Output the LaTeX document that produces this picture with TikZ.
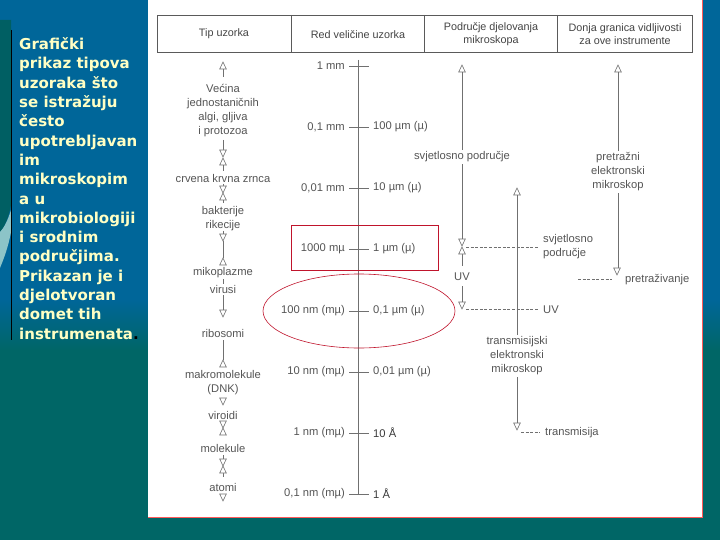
\documentclass[tikz,border=0pt]{standalone}
\usepackage{fontspec}
\setmainfont{Liberation Sans}
\newfontfamily\introfont{DejaVu Sans}
\usetikzlibrary{arrows.meta}
\definecolor{bgblue}{HTML}{006699}
\definecolor{bgteal}{HTML}{006666}
\definecolor{decoteal}{HTML}{005F63}
\definecolor{decolight}{HTML}{8CC4C8}
\definecolor{paleyel}{HTML}{FFFFC4}
\definecolor{dtext}{HTML}{555555}
\definecolor{dline}{HTML}{707070}
\definecolor{markred}{HTML}{C0142C}
\tikzset{
  lbl/.style={text=dtext, font=\fontsize{11.2}{14}\selectfont, inner sep=0pt, align=center},
  lblw/.style={lbl, fill=white, inner sep=2pt},
  hdrtxt/.style={text=dtext!80!black, font=\fontsize{10.8}{12.5}\selectfont, inner sep=0pt, align=center},
  ln/.style={draw=dline, line width=0.6pt},
  dsh/.style={draw=dline, line width=0.6pt, dash pattern=on 3pt off 1.6pt},
  hdr/.style={draw=dline!80!black, line width=0.8pt},
  tridn/.pic={\draw[dline, fill=white, line width=0.6pt] (0,0) -- (-3.3,-7) -- (3.3,-7) -- cycle;},
  triup/.pic={\draw[dline, fill=white, line width=0.6pt] (0,0) -- (-3.3,7) -- (3.3,7) -- cycle;},
}
\begin{document}
\begin{tikzpicture}[x=1pt,y=-1pt]
% background
\fill[bgblue] (0,0) rectangle (720,300);
\shade[top color=bgblue,bottom color=bgteal] (0,299.5) rectangle (720,350.5);
\fill[bgteal] (0,350) rectangle (720,540);
\useasboundingbox (0,0) rectangle (720,540);
% left decoration
\fill[decoteal] (0,20) -- (11,20) -- (11,205) .. controls (8,220) and (4,228) .. (0,232) -- cycle;
\fill[decolight] (0,232) .. controls (4,228) and (8,220) .. (11,210) -- (11,232) .. controls (8,248) and (4,258) .. (0,268) -- cycle;
\draw[black, line width=0.8pt] (11.5,30) -- (11.5,340);
% intro text
\node[anchor=north west, inner sep=0pt, align=left, text=paleyel,
      font=\introfont\bfseries\fontsize{15}{19.3}\selectfont] (intro) at (19,37.5)
 {Grafički\\prikaz tipova\\uzoraka što\\se istražuju\\često\\upotrebljavan\\im\\mikroskopim\\a u\\mikrobiologiji\\i srodnim\\područjima.\\Prikazan je i\\djelotvoran\\domet tih\\instrumenata\textcolor{black}{.}};
% white panel
\fill[white] (148,0) rectangle (702,517);
\draw[red!65!white, line width=0.6pt] (702,0) -- (702,517) -- (148,517);
% header
\draw[hdr] (157,15) rectangle (692,52);
\draw[hdr] (291,15) -- (291,52);
\draw[hdr] (424,15) -- (424,52);
\draw[hdr] (557,15) -- (557,52);
\node[hdrtxt] (h1) at (224,34) {Tip uzorka};
\node[hdrtxt] (h2) at (358,35) {Red veličine uzorka};
\node[hdrtxt] (h3) at (491,34) {Područje djelovanja\\mikroskopa};
\node[hdrtxt] (h4) at (625,34) {Donja granica vidljivosti\\za ove instrumente};
% ---- left column: sample types
\node[lbl] (vec) at (223,111) {Većina\\jednostaničnih\\algi, gljiva\\i protozoa};
\node[lbl] (crv) at (223,178) {crvena krvna zrnca};
\node[lbl] (bak) at (223,219) {bakterije\\rikecije};
\node[lbl] (mik) at (223,273) {mikoplazme};
\node[lbl] (vir) at (223,289) {virusi};
\node[lbl] (rib) at (223,333) {ribosomi};
\node[lbl] (mak) at (223,383) {makromolekule\\(DNK)};
\node[lbl] (vrd) at (223,415) {viroidi};
\node[lbl] (mol) at (223,448) {molekule};
\node[lbl] (atm) at (223,487) {atomi};
\draw[ln] (223,69) -- (223,77);
\draw[ln] (223,140) -- (223,150);
\draw[ln] (223,165) -- (223,171);
\draw[ln] (223,184) -- (223,186);
\draw[ln] (223,200) -- (223,203);
\draw[ln] (223,231) -- (223,234);
\draw[ln] (223,241) -- (223,258);
\draw[ln] (223,279) -- (223,284);
\draw[ln] (223,295) -- (223,310);
\draw[ln] (223,340) -- (223,360);
\draw[ln] (223,455) -- (223,459);
\draw[ln] (223,473) -- (223,477);
\pic at (223,62) {triup};
\pic at (223,157) {tridn};
\pic at (223,158) {triup};
\pic at (223,193) {tridn};
\pic at (223,193) {triup};
\pic at (223,241) {tridn};
\pic at (223,258) {triup};
\pic at (223,317) {tridn};
\pic at (223,360) {triup};
\pic at (223,405) {tridn};
\pic at (223,428) {tridn};
\pic at (223,428) {triup};
\pic at (223,466) {tridn};
\pic at (223,466) {triup};
\pic at (223,501) {tridn};
% ---- scale
\coordinate (stop) at (358,60);
\coordinate (sbot) at (358,494);
\draw[ln] (stop) -- (sbot);
\foreach \yy/\la/\lb in {66/{1 mm}/{},127/{0,1 mm}/{100 µm (µ)},188/{0,01 mm}/{10 µm (µ)},
  249/{1000 mµ}/{1 µm (µ)},311/{100 nm (mµ)}/{0,1 µm (µ)},372/{10 nm (mµ)}/{0,01 µm (µ)},
  433/{1 nm (mµ)}/{\textcolor{dtext!70!black}{10 Å}},494/{0,1 nm (mµ)}/{\textcolor{dtext!70!black}{1 Å}}}{
  \draw[ln] (349,\yy) -- (369,\yy);
  \node[lbl, anchor=east] at (345,\yy) {\la};
  \node[lbl, anchor=west] at (373,\yy) {\lb};
}
\draw[markred, line width=0.9pt] (291,225) rectangle (438,270);
\draw[markred, line width=0.6pt] (359,311) ellipse [x radius=96, y radius=37];
% ---- light microscope range
\draw[ln] (462,72) -- (462,239);
\node[lblw] (svp) at (462,157) {svjetlosno područje};
\draw[ln] (462,254) -- (462,266);
\pic at (462,65) {triup};
\pic at (462,246) {tridn};
\pic at (462,247) {triup};
\draw[dsh] (466,247) -- (538,247);
\node[lbl, anchor=west, align=left] (svl) at (543,246.5) {svjetlosno\\područje};
\node[lbl] (uv1) at (462,277) {UV};
\draw[ln] (462,286) -- (462,302);
\pic at (462,309) {tridn};
\draw[dsh] (466,309) -- (538,309);
\node[lbl, anchor=west] (uv2) at (543,310) {UV};
% ---- transmission EM
\draw[ln] (517,195) -- (517,423);
\node[lblw] (tem) at (517,356) {transmisijski\\elektronski\\mikroskop};
\pic at (517,188) {triup};
\pic at (517,430) {tridn};
\draw[dsh] (521,432) -- (540,432);
\node[lbl, anchor=west] (trl) at (545,433) {transmisija};
% ---- scanning EM
\draw[ln] (618,72) -- (618,268);
\node[lblw] (sem) at (618,172) {pretražni\\elektronski\\mikroskop};
\pic at (618,65) {triup};
\pic at (617,275) {tridn};
\draw[dsh] (578,279) -- (612,279);
\node[lbl, anchor=west] (prl) at (625,280) {pretraživanje};
\end{tikzpicture}
\end{document}
